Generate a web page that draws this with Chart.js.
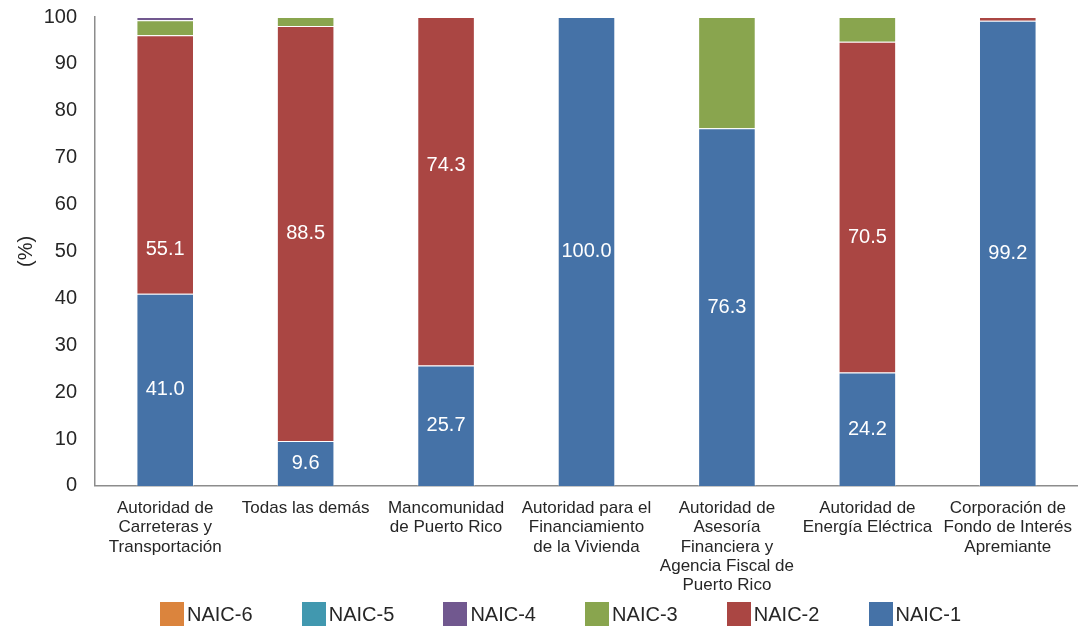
<!DOCTYPE html>
<html>
<head>
<meta charset="utf-8">
<script src="https://cdn.jsdelivr.net/npm/chart.js@4"></script>
<style>
  body { margin: 0; background: #fff; font-family: "Liberation Sans", Arial, sans-serif; }
  #wrap { position: relative; width: 1078px; height: 626px; overflow: hidden; }
  #barChart { position: absolute; left: 0; top: 0; }
  #legend { position: absolute; left: 0; top: 602px; width: 1078px; height: 24px; }
  .item { position: absolute; top: 0; height: 24px; display: flex; align-items: center; }
  .box { width: 24px; height: 24px; margin-right: 3px; }
  .txt { font-size: 20px; color: #262626; line-height: 24px; }
</style>
</head>
<body>
<div id="wrap">
  <canvas id="barChart" width="1078" height="608"></canvas>
  <div id="legend"></div>
</div>
<script>
var categories = [
    ['Autoridad de', 'Carreteras y', 'Transportación'],
    ['Todas las demás'],
    ['Mancomunidad', 'de Puerto Rico'],
    ['Autoridad para el', 'Financiamiento', 'de la Vivienda'],
    ['Autoridad de', 'Asesoría', 'Financiera y', 'Agencia Fiscal de', 'Puerto Rico'],
    ['Autoridad de', 'Energía Eléctrica'],
    ['Corporación de', 'Fondo de Interés', 'Apremiante']
];

var naic1 = [41.0, 9.6, 25.7, 100.0, 76.3, 24.2, 99.2];
var naic2 = [55.1, 88.5, 74.3, 0, 0, 70.5, 0.8];
var naic3 = [3.2, 1.9, 0, 0, 23.7, 5.3, 0];
var naic4 = [0.7, 0, 0, 0, 0, 0, 0];
var naic5 = [0, 0, 0, 0, 0, 0, 0];
var naic6 = [0, 0, 0, 0, 0, 0, 0];

var yTicks = [0, 10, 20, 30, 40, 50, 60, 70, 80, 90, 100];

var colors = {
    'NAIC-1': '#4572A7',
    'NAIC-2': '#AA4643',
    'NAIC-3': '#89A54E',
    'NAIC-4': '#71588F',
    'NAIC-5': '#4198AF',
    'NAIC-6': '#DB843D'
};

// only NAIC-1 and NAIC-2 carry value labels
var labelledSets = 2;
// the red labels were moved by hand in the original, nudge them (pixels)
var labelNudge = { '1:0': 85, '1:2': -26, '1:5': 30 };

function makeSet(name, values) {
    return {
        label: name,
        data: values,
        backgroundColor: colors[name],
        borderColor: 'rgba(255,255,255,0.35)',
        borderWidth: 1,
        barPercentage: 0.41,
        categoryPercentage: 1.0
    };
}

var barLabels = {
    id: 'barLabels',
    afterDatasetsDraw: function (chart) {
        var c = chart.ctx;
        c.save();
        c.fillStyle = '#ffffff';
        c.font = '20px "Liberation Sans", Arial, sans-serif';
        c.textAlign = 'center';
        c.textBaseline = 'middle';
        chart.data.datasets.forEach(function (ds, di) {
            if (di >= labelledSets) return;
            var meta = chart.getDatasetMeta(di);
            meta.data.forEach(function (bar, i) {
                var v = ds.data[i];
                if (v < 6) return;
                var y = (bar.y + bar.base) / 2 + (labelNudge[di + ':' + i] || 0);
                c.fillText(v.toFixed(1), bar.x, y);
            });
        });
        c.restore();
    }
};

var ctx = document.getElementById('barChart').getContext('2d');
var myChart = new Chart(ctx, {
    type: 'bar',
    data: {
        labels: categories,
        datasets: [
            makeSet('NAIC-1', naic1),
            makeSet('NAIC-2', naic2),
            makeSet('NAIC-3', naic3),
            makeSet('NAIC-4', naic4),
            makeSet('NAIC-5', naic5),
            makeSet('NAIC-6', naic6)
        ]
    },
    options: {
        responsive: false,
        animation: false,
        layout: { padding: { top: 17, right: -4, left: 14, bottom: 0 } },
        plugins: {
            legend: { display: false },
            tooltip: { enabled: false }
        },
        scales: {
            x: {
                stacked: true,
                afterFit: function (axis) {
                    axis.paddingLeft = 0;
                    axis.paddingRight = 0;
                },
                grid: { display: false, drawTicks: false },
                border: { display: true, color: '#8c8c8c', width: 1.5 },
                ticks: {
                    color: '#262626',
                    font: { size: 17, family: '"Liberation Sans", Arial, sans-serif', lineHeight: 1.13 },
                    maxRotation: 0,
                    autoSkip: false,
                    padding: 13
                }
            },
            y: {
                stacked: true,
                min: 0,
                max: 100,
                afterBuildTicks: function (axis) {
                    axis.ticks = yTicks.map(function (v) { return { value: v }; });
                },
                afterFit: function (axis) {
                    axis.width = 81;
                    axis.paddingTop = 0;
                },
                grid: { display: false, drawTicks: false },
                border: { display: true, color: '#8c8c8c', width: 1.5 },
                title: {
                    display: true,
                    text: '(%)',
                    color: '#262626',
                    font: { size: 20, family: '"Liberation Sans", Arial, sans-serif' },
                    padding: 0
                },
                ticks: {
                    color: '#262626',
                    font: { size: 20, family: '"Liberation Sans", Arial, sans-serif' },
                    padding: 18
                }
            }
        }
    },
    plugins: [barLabels]
});

// legend drawn below the canvas, NAIC-6 first
var legendEl = document.getElementById('legend');
var order = ['NAIC-6', 'NAIC-5', 'NAIC-4', 'NAIC-3', 'NAIC-2', 'NAIC-1'];
order.forEach(function (name, i) {
    var item = document.createElement('div');
    item.className = 'item';
    item.style.left = (160 + i * 141.7) + 'px';
    var box = document.createElement('span');
    box.className = 'box';
    box.style.background = colors[name];
    var txt = document.createElement('span');
    txt.className = 'txt';
    txt.textContent = name;
    item.appendChild(box);
    item.appendChild(txt);
    legendEl.appendChild(item);
});
</script>
</body>
</html>
